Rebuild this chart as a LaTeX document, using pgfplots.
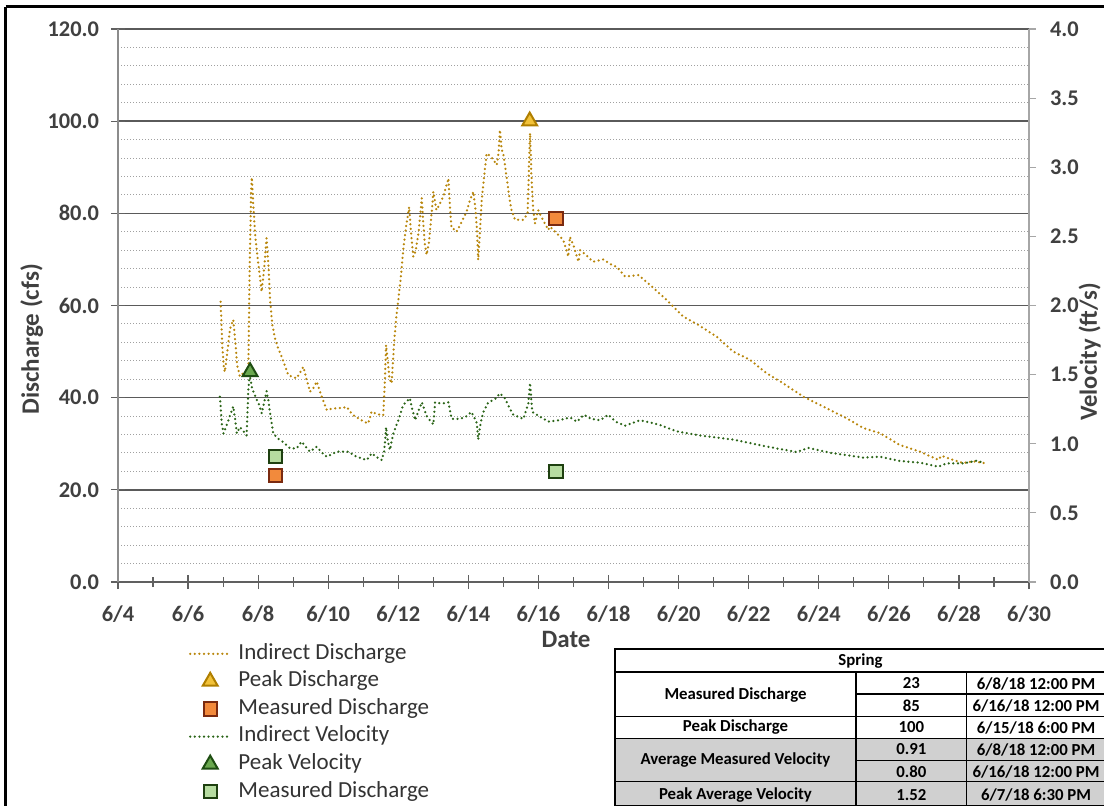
\documentclass[border=0pt]{standalone}
\usepackage{pgfplots}
\pgfplotsset{compat=1.18}
\usepackage{fontspec}
\setmainfont{Carlito}
\definecolor{disc}{HTML}{B8860B}
\definecolor{velo}{HTML}{2A6417}
\definecolor{pkfill}{HTML}{F2C23A}
\definecolor{pkdraw}{HTML}{B07F00}
\definecolor{msfill}{HTML}{F28A3C}
\definecolor{msdraw}{HTML}{7A2A10}
\definecolor{pvfill}{HTML}{6AA84F}
\definecolor{pvdraw}{HTML}{1E4D12}
\definecolor{mvfill}{HTML}{B6DCA0}
\definecolor{mvdraw}{HTML}{1E4010}
\definecolor{tcol}{HTML}{404040}
\definecolor{lcol}{HTML}{333333}
\definecolor{axgray}{HTML}{606060}
\definecolor{lgray}{HTML}{8C8C8C}
\definecolor{rgray}{HTML}{A6A6A6}
\definecolor{gridgray}{HTML}{5A5A5A}
\definecolor{mgray}{HTML}{A0A0A0}
\definecolor{tgray}{HTML}{D0D0D0}
\pgfplotsset{
  discline/.style={disc, line width=1.25pt, line cap=round, dash pattern=on 0pt off 2.3pt},
  veloline/.style={velo, line width=1.25pt, line cap=round, dash pattern=on 0pt off 2.3pt},
  pkmark/.style={only marks, mark=triangle*, mark size=4.3pt, mark options={fill=pkfill, draw=pkdraw, line width=1pt, solid}},
  msmark/.style={only marks, mark=square*, mark size=3.3pt, mark options={fill=msfill, draw=msdraw, line width=1pt, solid}},
  pvmark/.style={only marks, mark=triangle*, mark size=4.3pt, mark options={fill=pvfill, draw=pvdraw, line width=1pt, solid}},
  mvmark/.style={only marks, mark=square*, mark size=3.3pt, mark options={fill=mvfill, draw=mvdraw, line width=1pt, solid}},
  legend image code/.code={\draw[mark repeat=2,mark phase=2,#1] plot coordinates {(0pt,0pt) (10pt,0pt) (20pt,0pt)};},
}
\begin{document}
\begin{tikzpicture}
\begin{axis}[
  at={(59pt,111.5pt)}, anchor=south west,
  scale only axis, width=455.5pt, height=276.5pt,
  xmin=4, xmax=30, ymin=0, ymax=120,
  axis x line=bottom, axis y line=left, axis line style={-},
  x axis line style={color=axgray, line width=0.6pt},
  y axis line style={color=lgray, line width=0.7pt},
  xtick={4,6,...,30},
  xticklabels={6/4,6/6,6/8,6/10,6/12,6/14,6/16,6/18,6/20,6/22,6/24,6/26,6/28,6/30},
  minor x tick num=1,
  ytick={0,20,...,120},
  yticklabels={0.0,20.0,40.0,60.0,80.0,100.0,120.0},
  minor y tick num=4,
  ymajorgrids, yminorgrids,
  major grid style={color=gridgray, line width=0.75pt, solid},
  minor grid style={color=mgray, line width=0.5pt, dash pattern=on 0.5pt off 1pt},
  tick align=center, major tick length=7pt, minor tick length=5pt,
  tick style={color=axgray, line width=0.6pt},
  minor y tick style={draw=none},
  ticklabel style={font=\fontsize{11.2}{13}\selectfont\bfseries, text=tcol},
  xticklabel style={yshift=-5pt},
  yticklabel style={xshift=-2.5pt},
  xlabel={Date}, ylabel={Discharge (cfs)},
  xlabel style={at={(axis description cs:0.4918,-0.104)}, anchor=center, font=\fontsize{12.5}{14}\selectfont\bfseries, text=tcol},
  ylabel style={at={(axis description cs:-0.0947,0.439)}, anchor=center, font=\fontsize{12.5}{14}\selectfont\bfseries, text=tcol},
  legend style={at={(axis description cs:0.0779,-0.1049)}, anchor=north west, draw=none, fill=none,
    inner sep=0pt, outer sep=0pt, font=\fontsize{11.5}{13}\selectfont, text=lcol,
    row sep=0pt, column sep=3.5pt, nodes={inner sep=0pt, text height=9.5pt, text depth=4.3pt}},
  legend cell align=left,
]
\addplot[discline] coordinates {
(6.93,60.8) (6.97,52) (7.02,46.5) (7.05,45.6) (7.12,50) (7.20,55) (7.29,56.9) (7.35,52) (7.40,47)
(7.48,44.6) (7.60,45.5) (7.72,46) (7.76,70) (7.80,85) (7.82,87.8) (7.86,82) (7.91,75.7) (7.96,72)
(8.02,68) (8.10,63) (8.17,68) (8.24,74.6) (8.30,68) (8.34,61.2) (8.40,56) (8.48,52.9) (8.58,50.5)
(8.67,48.9) (8.86,44.9) (8.98,44.5) (9.10,44.2) (9.20,45.5) (9.29,46.7) (9.38,44) (9.48,41.3)
(9.57,42) (9.67,43.5) (9.80,40.5) (9.96,37.3) (10.10,37.6) (10.24,37.7) (10.40,37.8) (10.53,38.0)
(10.62,37) (10.72,36.2) (10.90,35.3) (11.05,34.7) (11.14,34.4) (11.24,37.0) (11.40,36.4) (11.57,36.2)
(11.62,44) (11.65,51.4) (11.70,48) (11.75,44) (11.81,43.1) (11.88,52) (11.95,58) (12.00,61.2)
(12.07,66) (12.14,72.0) (12.22,77) (12.31,81.4) (12.36,76) (12.43,70.6) (12.50,72) (12.58,76)
(12.67,83.3) (12.72,77) (12.76,73) (12.81,71) (12.88,74) (12.95,80) (13.00,84.7) (13.09,80.7)
(13.18,82) (13.30,84) (13.43,87.6) (13.47,82) (13.52,76.8) (13.60,76.5) (13.66,76) (13.80,78)
(13.95,80.4) (14.05,83) (14.14,84.7) (14.20,81) (14.24,77.1) (14.28,69.9) (14.33,76) (14.38,82.9)
(14.45,88) (14.52,93) (14.62,92.5) (14.72,91.5) (14.81,90.5) (14.86,93) (14.90,98.1) (14.95,94)
(15.00,92.7) (15.07,89) (15.14,85.1) (15.22,81) (15.33,78.6) (15.45,78.6) (15.57,78.6) (15.69,80)
(15.72,88) (15.76,97.4) (15.80,88) (15.85,80.7) (15.90,77.8) (15.99,80.7) (16.10,79) (16.28,76.4)
(16.33,77.1) (16.52,75.7) (16.71,74.2) (16.80,72) (16.85,70.6) (16.90,74.9) (17.00,73) (17.14,69.5)
(17.19,72) (17.35,71) (17.56,69.5) (17.85,70) (18.05,69) (18.23,68.4) (18.47,66.3) (18.85,66.6)
(19.18,64.5) (19.66,61.2) (20.13,57.6) (20.56,55.8) (21.09,53.2) (21.56,50) (22.04,48.2) (22.51,45.3)
(22.99,43.1) (23.56,40.2) (23.75,39.5) (24.41,37) (24.85,35.3) (25.27,33.4) (25.75,32.3) (26.32,29.7)
(26.89,28.3) (27.41,26.5) (27.50,27.4) (27.79,26.6) (28.12,25.8) (28.40,26.2) (28.74,25.8)
};
\addlegendentry{Indirect Discharge}
\addplot[pkmark] coordinates {(15.75,100)};
\addlegendentry{Peak Discharge}
\addplot[msmark] coordinates {(8.5,23.1) (16.5,78.9)};
\addlegendentry{Measured Discharge}
\addlegendimage{veloline}
\addlegendentry{Indirect Velocity}
\addlegendimage{pvmark}
\addlegendentry{Peak Velocity}
\addlegendimage{mvmark}
\addlegendentry{Measured Discharge}
\end{axis}
\begin{axis}[
  at={(59pt,111.5pt)}, anchor=south west,
  scale only axis, width=455.5pt, height=276.5pt,
  xmin=4, xmax=30, ymin=0, ymax=4,
  axis x line=none, axis y line=right, axis line style={-, color=rgray, line width=0.7pt},
  xtick=\empty,
  ytick={0,0.5,...,4},
  yticklabels={0.0,0.5,1.0,1.5,2.0,2.5,3.0,3.5,4.0},
  tick align=outside, major tick length=3.5pt,
  tick style={color=rgray, line width=0.6pt},
  ticklabel style={font=\fontsize{11.2}{13}\selectfont\bfseries, text=tcol},
  yticklabel style={xshift=3.5pt},
  ylabel={Velocity (ft/s)},
  ylabel style={at={(axis description cs:1.0665,0.416)}, anchor=center, font=\fontsize{12.3}{14}\selectfont\bfseries, text=tcol},
]
\addplot[veloline] coordinates {
(6.91,1.34) (6.96,1.15) (7.01,1.075) (7.08,1.12) (7.15,1.17) (7.22,1.22) (7.29,1.27) (7.34,1.18)
(7.39,1.075) (7.48,1.12) (7.58,1.09) (7.67,1.06) (7.72,1.39) (7.76,1.50) (7.82,1.41) (7.89,1.36)
(7.96,1.32) (8.03,1.28) (8.10,1.22) (8.17,1.30) (8.24,1.38) (8.30,1.30) (8.34,1.22) (8.43,1.075)
(8.55,1.04) (8.70,1.015) (8.91,0.967) (9.10,0.967) (9.24,1.015) (9.35,0.98) (9.48,0.943) (9.67,0.979)
(9.80,0.94) (9.96,0.906) (10.24,0.943) (10.57,0.943) (10.81,0.906) (11.10,0.882) (11.24,0.931)
(11.40,0.90) (11.53,0.882) (11.60,0.95) (11.65,1.12) (11.70,1.02) (11.76,0.955) (11.86,1.075)
(12.00,1.17) (12.14,1.28) (12.33,1.33) (12.40,1.25) (12.48,1.17) (12.58,1.24) (12.67,1.30) (12.74,1.25)
(12.81,1.20) (12.90,1.17) (13.00,1.14) (13.05,1.30) (13.24,1.29) (13.43,1.30) (13.52,1.18) (13.76,1.18)
(13.95,1.20) (14.09,1.23) (14.24,1.15) (14.28,1.03) (14.35,1.15) (14.43,1.23) (14.57,1.30) (14.75,1.32)
(14.90,1.365) (15.04,1.33) (15.15,1.27) (15.28,1.21) (15.57,1.18) (15.71,1.29) (15.76,1.44) (15.82,1.23)
(15.95,1.21) (16.28,1.16) (16.60,1.17) (16.90,1.19) (17.10,1.16) (17.30,1.21) (17.50,1.18) (17.76,1.17)
(17.99,1.21) (18.20,1.16) (18.47,1.13) (18.90,1.17) (19.42,1.14) (19.94,1.09) (20.61,1.06) (21.56,1.03)
(22.51,0.98) (23.37,0.94) (23.70,0.97) (24.32,0.935) (25.27,0.90) (25.75,0.906) (26.32,0.875)
(26.89,0.863) (27.41,0.834) (27.65,0.858) (28.12,0.858) (28.50,0.877) (28.69,0.863)
};
\addplot[pvmark] coordinates {(7.77,1.52)};
\addplot[mvmark] coordinates {(8.5,0.91) (16.5,0.80)};
\end{axis}
\begin{scope}[x=0.5pt,y=-0.5pt,yshift=402.5pt]
  \draw[line width=1.5pt, black] (5.5,7) -- (1115,7);
  \draw[line width=1.5pt, black] (5.5,7) -- (5.5,815);
  \fill[tgray] (615,738.5) rectangle (1106,812);
  \draw[line width=0.6pt, black] (615,672) -- (1106,672);
  \draw[line width=0.6pt, black] (856,694) -- (1106,694);
  \draw[line width=0.6pt, black] (615,716.5) -- (1106,716.5);
  \draw[line width=0.6pt, black] (615,738.5) -- (1106,738.5);
  \draw[line width=0.6pt, black] (856,760.5) -- (1106,760.5);
  \draw[line width=0.6pt, black] (615,781.5) -- (1106,781.5);
  \draw[line width=0.6pt, black] (856,672) -- (856,812);
  \draw[line width=0.6pt, black] (966.7,672) -- (966.7,812);
  \draw[line width=1pt, black] (615,649) rectangle (1106,806);
  \begin{scope}[every node/.style={font=\fontsize{8.4}{10}\selectfont\bfseries, text=black, inner sep=0pt, anchor=center}]
    \node at (860.5,661) {Spring};
    \node at (735.5,695) {Measured Discharge};
    \node at (911.3,683.5) {23};
    \node at (911.3,705.5) {85};
    \node at (1036,683.5) {6/8/18 12:00 PM};
    \node at (1036,705.5) {6/16/18 12:00 PM};
    \node at (735.5,727.5) {Peak Discharge};
    \node at (911.3,727.5) {100};
    \node at (1036,727.5) {6/15/18 6:00 PM};
    \node at (735.5,760.5) {Average Measured Velocity};
    \node at (911.3,749.5) {0.91};
    \node at (911.3,771.5) {0.80};
    \node at (1036,749.5) {6/8/18 12:00 PM};
    \node at (1036,771.5) {6/16/18 12:00 PM};
    \node at (735.5,795) {Peak Average Velocity};
    \node at (911.3,795) {1.52};
    \node at (1036,795) {6/7/18 6:30 PM};
  \end{scope}
\end{scope}
\pgfresetboundingbox
\useasboundingbox (0,0) rectangle (552pt,402.5pt);
\end{tikzpicture}
\end{document}
